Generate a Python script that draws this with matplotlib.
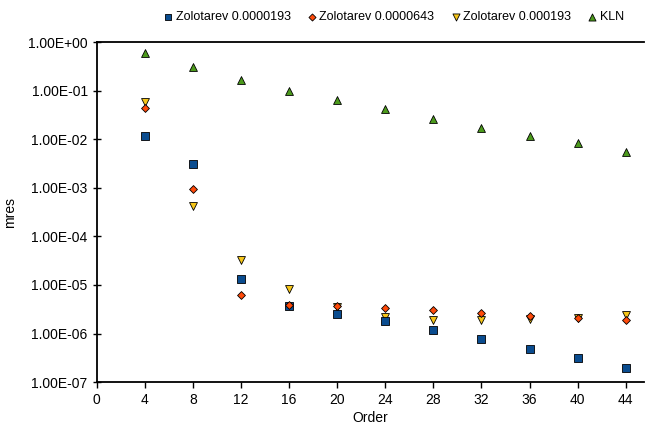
import matplotlib
matplotlib.use("Agg")
import matplotlib.pyplot as plt
from matplotlib.ticker import FuncFormatter, FixedLocator

plt.rcParams['font.family'] = ['Liberation Sans', 'DejaVu Sans']

order = [4, 8, 12, 16, 20, 24, 28, 32, 36, 40, 44]
zolo_193 = [0.0117, 0.0031, 1.35e-5, 3.7e-6, 2.5e-6, 1.8e-6, 1.2e-6, 7.9e-7, 4.9e-7, 3.1e-7, 1.94e-7]
zolo_643 = [0.045, 9.5e-4, 6.2e-6, 3.8e-6, 3.7e-6, 3.4e-6, 3.0e-6, 2.6e-6, 2.3e-6, 2.06e-6, 1.88e-6]
zolo_1930 = [0.059, 4.2e-4, 3.2e-5, 8.2e-6, 3.6e-6, 2.2e-6, 1.9e-6, 1.87e-6, 2.0e-6, 2.1e-6, 2.4e-6]
kln = [0.59, 0.31, 0.17, 0.10, 0.064, 0.042, 0.026, 0.0173, 0.0118, 0.0082, 0.0056]

fig = plt.figure(figsize=(6.45, 4.26), dpi=100)
ax = fig.add_axes([0.150, 0.103, 0.848, 0.798])

ax.scatter(order, zolo_193, marker='s', s=28, color='#0a4c8f', edgecolors='black', linewidths=0.6,
           label='Zolotarev 0.0000193', zorder=3)
ax.scatter(order, zolo_643, marker='D', s=16, color='#ff4a0a', edgecolors='black', linewidths=0.6,
           label='Zolotarev 0.0000643', zorder=4)
ax.scatter(order, zolo_1930, marker='v', s=32, color='#f5c518', edgecolors='black', linewidths=0.6,
           label='Zolotarev 0.000193', zorder=2)
ax.scatter(order, kln, marker='^', s=32, color='#4c9a1c', edgecolors='black', linewidths=0.6,
           label='KLN', zorder=3)

ax.set_yscale('log')
ax.set_ylim(1e-7, 1)
ax.set_xlim(0, 45.5)
ax.yaxis.set_major_locator(FixedLocator([10.0 ** k for k in range(-7, 1)]))
ax.yaxis.set_minor_locator(FixedLocator([]))
ax.yaxis.set_major_formatter(FuncFormatter(lambda v, p: '%.2E' % v))
ax.set_xticks(range(0, 45, 4))

for s in ['left', 'bottom', 'top']:
    ax.spines[s].set_linewidth(1.3)
ax.spines['right'].set_visible(False)
ax.tick_params(direction='out', length=4, width=1, labelsize=10, colors='black')
ax.tick_params(axis='y', direction='inout', length=6)

ax.set_xlabel('Order', fontsize=10, labelpad=3)
ax.set_ylabel('mres', fontsize=10, labelpad=8)

fig.legend(loc='upper right', bbox_to_anchor=(0.985, 1.0), ncol=4, frameon=False, fontsize=9,
           handletextpad=0.1, columnspacing=1.2, markerscale=0.9, handlelength=1.0)

fig.savefig('out.png', dpi=100)
